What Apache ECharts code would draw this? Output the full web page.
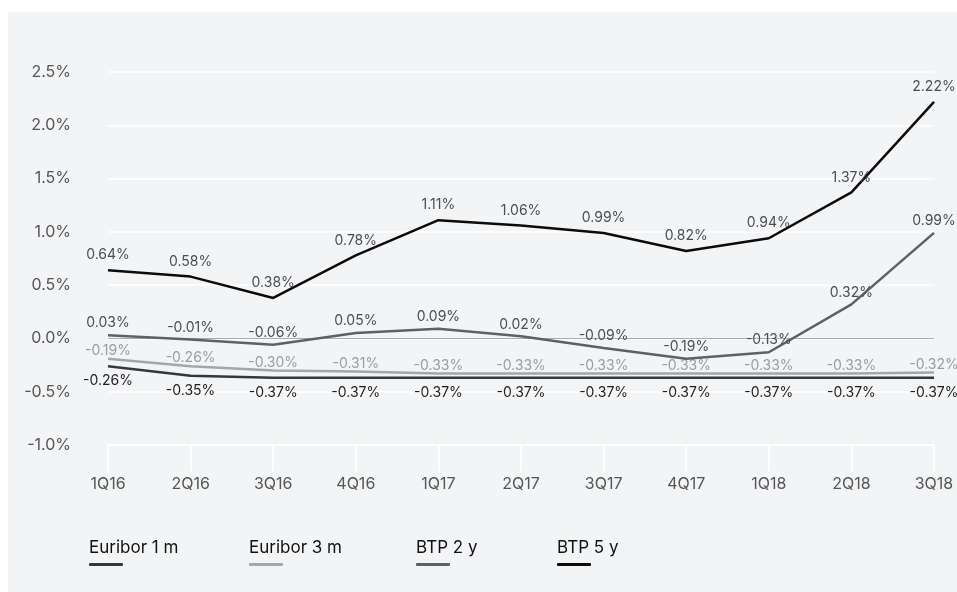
<!DOCTYPE html>
<html>
<head>
<meta charset="utf-8">
<script src="https://cdn.jsdelivr.net/npm/echarts@6/dist/echarts.min.js"></script>
<style>
html,body{margin:0;padding:0;background:#ffffff;}
#chart{width:957px;height:592px;}
</style>
</head>
<body>
<div id="chart"></div>
<script>
var categories = ['1Q16','2Q16','3Q16','4Q16','1Q17','2Q17','3Q17','4Q17','1Q18','2Q18','3Q18'];
var seriesNames = ['Euribor 1 m','Euribor 3 m','BTP 2 y','BTP 5 y'];
var euribor1m = [-0.26,-0.35,-0.37,-0.37,-0.37,-0.37,-0.37,-0.37,-0.37,-0.37,-0.37];
var euribor3m = [-0.19,-0.26,-0.30,-0.31,-0.33,-0.33,-0.33,-0.33,-0.33,-0.33,-0.32];
var btp2y = [0.03,-0.01,-0.06,0.05,0.09,0.02,-0.09,-0.19,-0.13,0.32,0.99];
var btp5y = [0.64,0.58,0.38,0.78,1.11,1.06,0.99,0.82,0.94,1.37,2.22];
var lineColors = ['#34373c','#a3a7ad','#5c6168','#0b0b0b'];
var labelColors = ['#1e1e1e','#999ca1','#4a4d52','#4a4d52'];
var labelPos = ['bottom','top','top','top'];
var labelDist = [8, 1, 5, 8];
var allData = [euribor1m, euribor3m, btp2y, btp5y];
var FONT = 'Inter, "Noto Sans", sans-serif';

var chart = echarts.init(document.getElementById('chart'), null, {renderer:'canvas'});

var series = seriesNames.map(function(name, i){
  var s = {
    name: name,
    type: 'line',
    data: allData[i],
    symbol: 'circle',
    symbolSize: 0,
    showSymbol: true,
    smooth: false,
    z: 3 + i,
    lineStyle: {color: lineColors[i], width: 2.5},
    itemStyle: {color: lineColors[i]},
    label: {
      show: true,
      position: labelPos[i],
      distance: labelDist[i],
      color: labelColors[i],
      fontFamily: FONT,
      fontSize: 14,
      formatter: function(p){ return p.value.toFixed(2) + '%'; }
    },
    labelLayout: {hideOverlap: false}
  };
  if (i === 0) {
    s.markLine = {
      silent: true,
      symbol: 'none',
      label: {show: false},
      lineStyle: {color: '#a8abb0', width: 1, type: 'solid'},
      data: [{yAxis: 0}],
      z: 1
    };
  }
  return s;
});

var legendX = [89, 249, 416, 557];
var graphics = [{
  type: 'rect',
  left: 8, top: 12,
  shape: {width: 949, height: 580},
  style: {fill: '#f3f4f6'},
  z: -10
}];
seriesNames.forEach(function(name, i){
  graphics.push({
    type: 'text',
    left: legendX[i], top: 539,
    style: {text: name, fill: '#111111', font: '17px ' + FONT}
  });
  graphics.push({
    type: 'rect',
    left: legendX[i], top: 563,
    shape: {width: 34, height: 3, r: 1},
    style: {fill: lineColors[i]}
  });
});

chart.setOption({
  backgroundColor: 'transparent',
  animation: false,
  graphic: graphics,
  grid: {left: 108, right: 23, top: 72, bottom: 147, containLabel: false},
  xAxis: {
    type: 'category',
    data: categories,
    boundaryGap: false,
    axisLine: {show: true, onZero: false, lineStyle: {color: '#ffffff', width: 1.5}},
    axisTick: {show: true, length: 26, lineStyle: {color: '#ffffff', width: 1.5}},
    axisLabel: {color: '#555555', fontFamily: FONT, fontSize: 16, margin: 31},
    splitLine: {show: false}
  },
  yAxis: {
    type: 'value',
    min: -1, max: 2.5, interval: 0.5,
    axisLine: {show: false},
    axisTick: {show: false},
    axisLabel: {color: '#555555', fontFamily: FONT, fontSize: 16, margin: 37,
      formatter: function(v){ return v.toFixed(1) + '%'; }},
    splitLine: {show: true, lineStyle: {color: '#ffffff', width: 1.5}}
  },
  series: series
});
</script>
</body>
</html>
